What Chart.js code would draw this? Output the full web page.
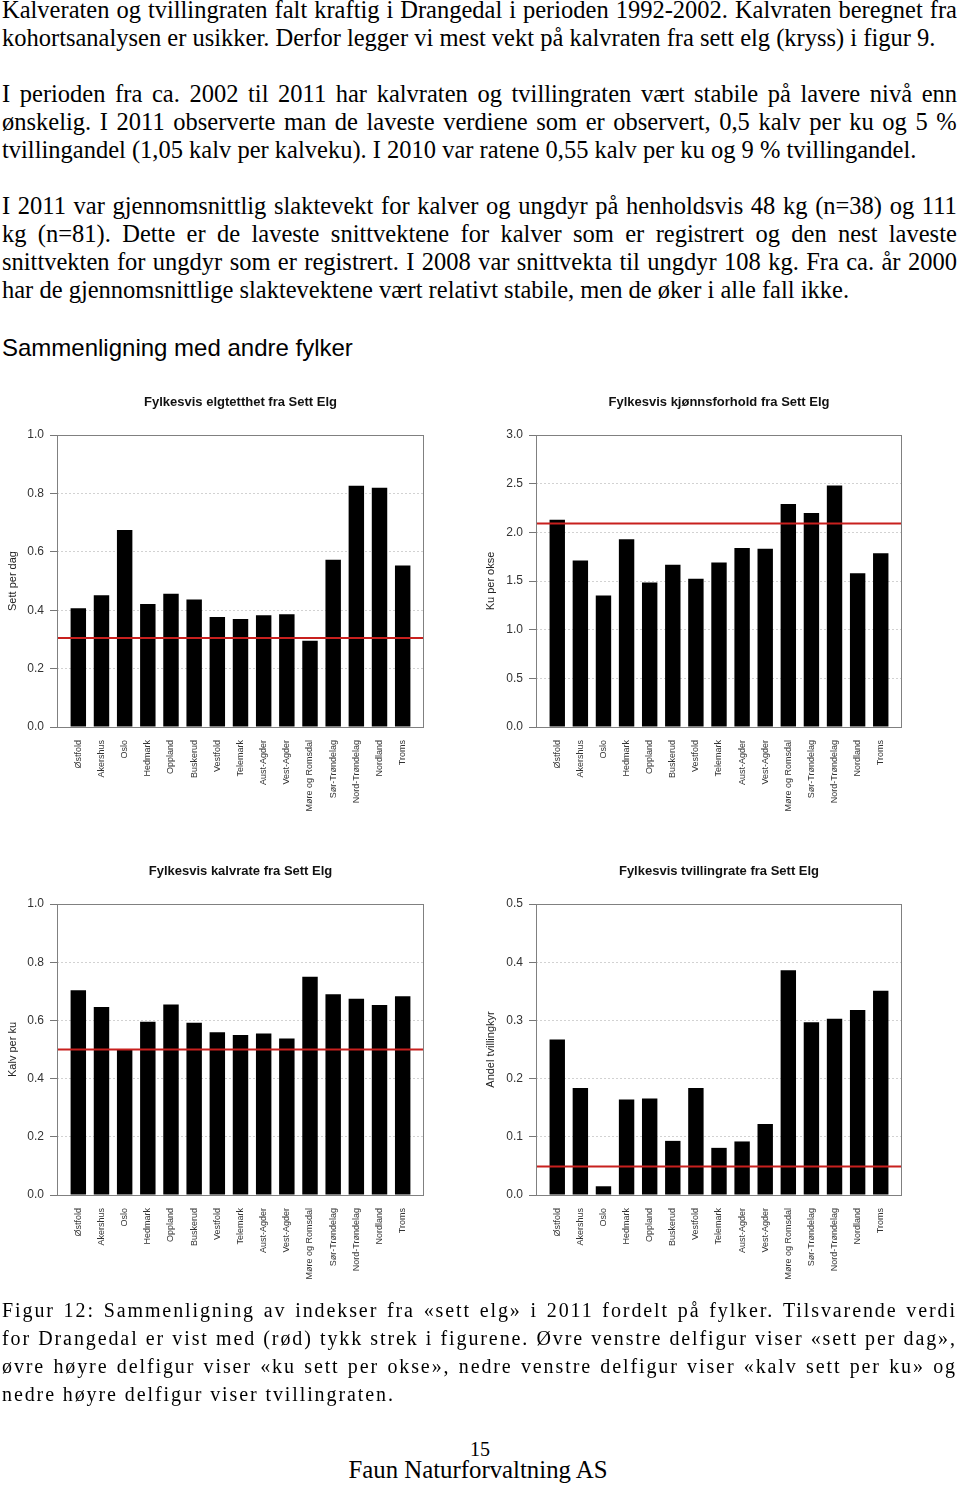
<!DOCTYPE html>
<html lang="no">
<head>
<meta charset="utf-8">
<title>Sammenligning med andre fylker</title>
<script src="https://cdn.jsdelivr.net/npm/chart.js@4.4.1/dist/chart.umd.min.js"></script>
<style>
html,body{margin:0;padding:0;background:#fff;}
body{width:960px;height:1491px;position:relative;overflow:hidden;}
.serif{font-family:"Liberation Serif","Times New Roman",serif;color:#000;}
.blk{position:absolute;left:2px;width:955px;}
.ln{height:28px;line-height:28px;white-space:nowrap;}
.ln.j{display:flex;justify-content:space-between;}
.body{font-size:24.5px;top:-4px;}
.cap{font-size:20px;letter-spacing:1.9px;top:1296px;}
.heading{position:absolute;left:2px;top:334px;font-family:"Liberation Sans",Arial,sans-serif;font-size:24px;line-height:28px;color:#000;white-space:nowrap;margin:0;font-weight:normal;}
.pg{position:absolute;left:0;width:960px;text-align:center;line-height:28px;white-space:nowrap;}
canvas{position:absolute;}
</style>
</head>
<body>
<div id="bodytext" class="blk body serif"></div>
<h2 class="heading">Sammenligning med andre fylker</h2>
<canvas id="c1" width="440" height="450" style="left:0px;top:380px;"></canvas>
<canvas id="c2" width="440" height="450" style="left:478px;top:380px;"></canvas>
<canvas id="c3" width="440" height="450" style="left:0px;top:849px;"></canvas>
<canvas id="c4" width="440" height="450" style="left:478px;top:849px;"></canvas>
<div id="caption" class="blk cap serif"></div>
<div class="pg serif" style="top:1435px;font-size:20px;">15</div>
<div class="pg serif" style="top:1456px;font-size:24.8px;left:-2px;">Faun Naturforvaltning AS</div>
<script>
// ---------- data ----------
const fylker = ["Østfold","Akershus","Oslo","Hedmark","Oppland","Buskerud","Vestfold","Telemark","Aust-Agder","Vest-Agder","Møre og Romsdal","Sør-Trøndelag","Nord-Trøndelag","Nordland","Troms"];

const settPerDag   = [0.407,0.451,0.675,0.421,0.456,0.437,0.377,0.370,0.383,0.386,0.295,0.573,0.826,0.819,0.553];
const kuPerOkse    = [2.13,1.71,1.35,1.93,1.485,1.666,1.522,1.69,1.838,1.831,2.29,2.198,2.482,1.58,1.786];
const kalvPerKu    = [0.704,0.646,0.502,0.595,0.655,0.592,0.559,0.550,0.555,0.538,0.750,0.690,0.674,0.653,0.683];
const tvillingrate = [0.267,0.184,0.015,0.164,0.166,0.093,0.184,0.081,0.092,0.122,0.386,0.297,0.303,0.318,0.351];

const drangedalSettPerDag = 0.305;
const drangedalKuPerOkse  = 2.09;
const drangedalKalvPerKu  = 0.50;
const drangedalTvilling   = 0.049;

const ticksSettPerDag = [0.0,0.2,0.4,0.6,0.8,1.0];
const ticksKuPerOkse  = [0.0,0.5,1.0,1.5,2.0,2.5,3.0];
const ticksKalvPerKu  = [0.0,0.2,0.4,0.6,0.8,1.0];
const ticksTvilling   = [0.0,0.1,0.2,0.3,0.4,0.5];

// ---------- text ----------
const bodyLines = [
  ["Kalveraten og tvillingraten falt kraftig i Drangedal i perioden 1992-2002. Kalvraten beregnet fra", true],
  ["kohortsanalysen er usikker. Derfor legger vi mest vekt på kalvraten fra sett elg (kryss) i figur 9.", false],
  ["", false],
  ["I perioden fra ca. 2002 til 2011 har kalvraten og tvillingraten vært stabile på lavere nivå enn", true],
  ["ønskelig. I 2011 observerte man de laveste verdiene som er observert, 0,5 kalv per ku og 5 %", true],
  ["tvillingandel (1,05 kalv per kalveku). I 2010 var ratene 0,55 kalv per ku og 9 % tvillingandel.", false],
  ["", false],
  ["I 2011 var gjennomsnittlig slaktevekt for kalver og ungdyr på henholdsvis 48 kg (n=38) og 111", true],
  ["kg (n=81). Dette er de laveste snittvektene for kalver som er registrert og den nest laveste", true],
  ["snittvekten for ungdyr som er registrert. I 2008 var snittvekta til ungdyr 108 kg. Fra ca. år 2000", true],
  ["har de gjennomsnittlige slaktevektene vært relativt stabile, men de øker i alle fall ikke.", false]
];
const captionLines = [
  ["Figur 12: Sammenligning av indekser fra «sett elg» i 2011 fordelt på fylker. Tilsvarende verdi", true],
  ["for Drangedal er vist med (rød) tykk strek i figurene. Øvre venstre delfigur viser «sett per dag»,", true],
  ["øvre høyre delfigur viser «ku sett per okse», nedre venstre delfigur viser «kalv sett per ku» og", true],
  ["nedre høyre delfigur viser tvillingraten.", false]
];
function fillLines(el, lines){
  lines.forEach(([t, j]) => {
    const d = document.createElement('div');
    d.className = 'ln' + (j ? ' j' : '');
    if (j) {
      t.split(' ').forEach(w => { const s = document.createElement('span'); s.textContent = w; d.appendChild(s); });
    } else {
      d.textContent = t;
    }
    el.appendChild(d);
  });
}
fillLines(document.getElementById('bodytext'), bodyLines);
fillLines(document.getElementById('caption'), captionLines);

// ---------- charts ----------
Chart.defaults.font.family = '"Liberation Sans", Arial, sans-serif';

const frameBox = {
  id: 'frameBox',
  afterDatasetsDraw(chart) {
    const {ctx, chartArea: a} = chart;
    ctx.save();
    ctx.strokeStyle = '#808080';
    ctx.lineWidth = 1;
    ctx.strokeRect(Math.round(a.left) + 0.5, Math.round(a.top) + 0.5, Math.round(a.right - a.left) - 1, Math.round(a.bottom - a.top));
    ctx.restore();
  }
};
const centerTitle = {
  id: 'centerTitle',
  afterDraw(chart, args, opts) {
    const {ctx, chartArea: a} = chart;
    ctx.save();
    ctx.font = 'bold 13px "Liberation Sans", Arial, sans-serif';
    ctx.fillStyle = '#111';
    ctx.textAlign = 'center';
    ctx.textBaseline = 'middle';
    ctx.fillText(opts.text, (a.left + a.right) / 2, a.top - 33);
    ctx.restore();
  }
};

function makeChart(id, values, ref, yTicks, yTitle, title, yWidth, xHeight) {
  const pos = fylker.map((_, i) => 1 + 1.5 * i);
  const xMin = -0.38, xMax = 23.38;
  return new Chart(document.getElementById(id), {
    type: 'bar',
    data: {
      datasets: [
        {type: 'line', data: [{x: xMin, y: ref}, {x: xMax, y: ref}], borderColor: '#c8201e', borderWidth: 2, pointRadius: 0, order: 0},
        {type: 'bar', data: values.map((v, i) => ({x: pos[i], y: v})), backgroundColor: '#000', borderWidth: 0,
         barPercentage: 1 / 1.5, categoryPercentage: 1, order: 1}
      ]
    },
    options: {
      responsive: false,
      animation: false,
      devicePixelRatio: 1,
      layout: {padding: {top: 55, right: 16, left: 0, bottom: 0}},
      plugins: {legend: {display: false}, tooltip: {enabled: false}, title: {display: false}, centerTitle: {text: title}},
      scales: {
        x: {
          type: 'linear', min: xMin, max: xMax, offset: false, bounds: 'data',
          afterBuildTicks: s => { s.ticks = pos.map(v => ({value: v})); },
          afterFit: s => { s.height = xHeight; },
          ticks: {autoSkip: false, maxRotation: 90, minRotation: 90, padding: 13, font: {size: 9}, color: '#333',
                  callback: (v, i) => fylker[i]},
          grid: {display: false, drawTicks: false, offset: false},
          border: {display: false}
        },
        y: {
          type: 'linear', min: 0, max: yTicks[yTicks.length - 1],
          afterBuildTicks: s => { s.ticks = yTicks.map(v => ({value: v})); },
          afterFit: s => { s.width = yWidth; },
          ticks: {callback: v => Number(v).toFixed(1), font: {size: 12}, color: '#333', padding: 6},
          grid: {color: '#d2d2d2', lineWidth: 1, tickColor: '#777', tickLength: 7, drawTicks: true},
          border: {display: false, dash: [2, 2]},
          title: {display: true, text: yTitle, font: {size: 11}, color: '#222', padding: {top: 6, bottom: 0}}
        }
      }
    },
    plugins: [frameBox, centerTitle]
  });
}

makeChart('c1', settPerDag, drangedalSettPerDag, ticksSettPerDag, 'Sett per dag', 'Fylkesvis elgtetthet fra Sett Elg', 57, 103);
makeChart('c2', kuPerOkse, drangedalKuPerOkse, ticksKuPerOkse, 'Ku per okse', 'Fylkesvis kjønnsforhold fra Sett Elg', 58, 103);
makeChart('c3', kalvPerKu, drangedalKalvPerKu, ticksKalvPerKu, 'Kalv per ku', 'Fylkesvis kalvrate fra Sett Elg', 57, 104);
makeChart('c4', tvillingrate, drangedalTvilling, ticksTvilling, 'Andel tvillingkyr', 'Fylkesvis tvillingrate fra Sett Elg', 58, 104);
</script>
</body>
</html>
